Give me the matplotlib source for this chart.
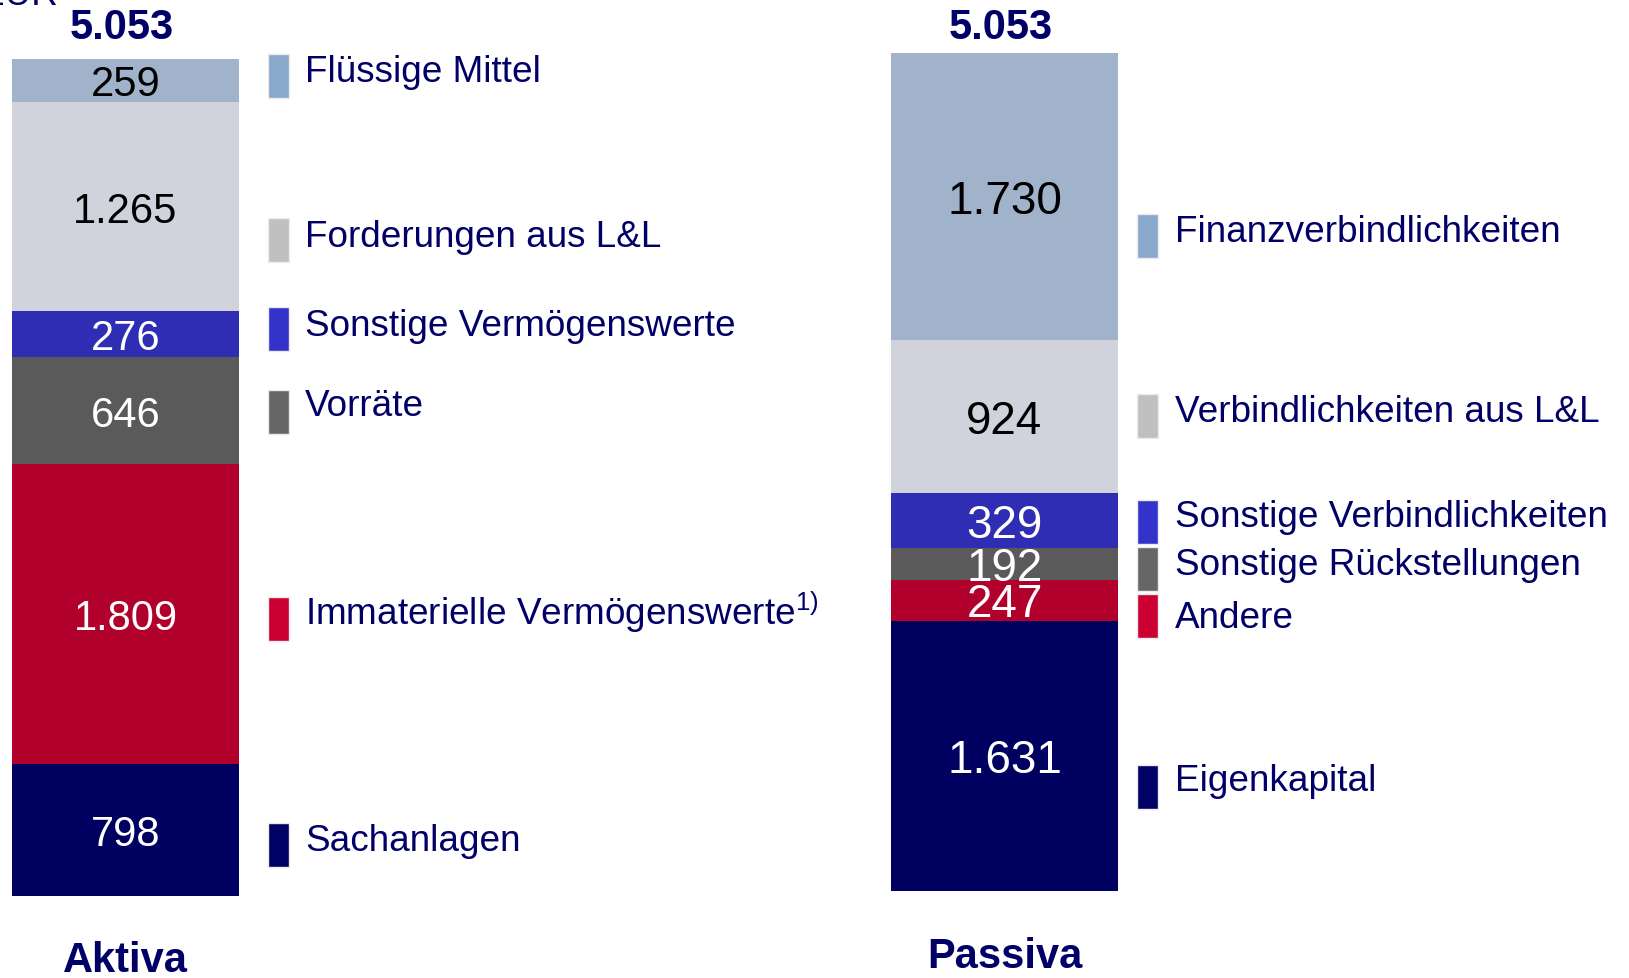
import matplotlib
matplotlib.use("Agg")
import matplotlib.pyplot as plt
from matplotlib.patches import Rectangle
from matplotlib.transforms import offset_copy

plt.rcParams["font.family"] = ["Liberation Sans", "DejaVu Sans"]
plt.rcParams["mathtext.fontset"] = "custom"
plt.rcParams["mathtext.rm"] = "Liberation Sans"

# Bilanz in Mio. EUR, segments listed bottom to top
unit = "EUR"
column_titles = ["Aktiva", "Passiva"]
aktiva_labels = ["Sachanlagen", "Immaterielle Vermögenswerte$^{1)}$", "Vorräte",
                 "Sonstige Vermögenswerte", "Forderungen aus L&L", "Flüssige Mittel"]
aktiva_values = [798, 1809, 646, 276, 1265, 259]
passiva_labels = ["Eigenkapital", "Andere", "Sonstige Rückstellungen",
                  "Sonstige Verbindlichkeiten", "Verbindlichkeiten aus L&L",
                  "Finanzverbindlichkeiten"]
passiva_values = [1631, 247, 192, 329, 924, 1730]

NAVY = "#000066"
bar_colors = ["#000060", "#b2002d", "#5a5a5a", "#2e2db4", "#d0d3db", "#a0b3cb"]
marker_colors = ["#000066", "#cc0033", "#666666", "#3333cc", "#c0c0c0", "#88a8cc"]
text_colors = ["white", "white", "white", "white", "black", "black"]

W, H = 1629, 979


def fmt(v):
    return f"{v:,}".replace(",", ".")


def draw_column(fig, values, top, bottom, xc, label_size):
    """Stacked bar in value units, placed between pixel rows top/bottom."""
    total = sum(values)
    ax = fig.add_axes([0, (H - bottom) / H, 1, (bottom - top) / H])
    ax.set_xlim(0, W)
    ax.set_ylim(0, total)
    ax.axis("off")
    bottoms = [sum(values[:i]) for i in range(len(values))]
    ax.bar(xc, values, width=227, bottom=bottoms, color=bar_colors, linewidth=0)
    em = label_size * 100 / 72
    trans = offset_copy(ax.transData, fig=fig, y=-0.716 * em / 2, units="dots")
    for v, b, c in zip(values, bottoms, text_colors):
        ax.text(xc, b + v / 2, fmt(v), transform=trans, ha="center", va="baseline",
                fontsize=label_size, color=c)
    return total


def draw_legend(lay, labels, x_marker, x_text, marker_tops, baselines):
    for lab, col, mt, bl in zip(labels, marker_colors, marker_tops, baselines):
        lay.add_patch(Rectangle((x_marker, mt), 21, 44, facecolor=col,
                                edgecolor="#ebebeb", linewidth=1))
        lay.text(x_text, bl, lab, ha="left", va="baseline", fontsize=26.6, color=NAVY)


fig = plt.figure(figsize=(W / 100, H / 100), dpi=100)

total_a = draw_column(fig, aktiva_values, 60, 897, 125.5, 30)
total_p = draw_column(fig, passiva_values, 54, 892, 1004.5, 33)

lay = fig.add_axes([0, 0, 1, 1])
lay.set_xlim(0, W)
lay.set_ylim(H, 0)
lay.axis("off")

# legends (pixel layout, bottom to top like the data)
draw_legend(lay, aktiva_labels, 268, 305,
            [824, 598, 391, 308, 219, 55],
            [851, 625, 416, 336, 247, 82])
draw_legend(lay, passiva_labels, 1137, 1175,
            [766, 595, 548, 501, 395, 215],
            [791, 628, 575, 527, 422, 242])

# totals and column titles
for xc, tot, title, ty in [(125.5, total_a, column_titles[0], 972),
                           (1004.5, total_p, column_titles[1], 968)]:
    lay.text(xc - 4, 39, fmt(tot), ha="center", va="baseline", fontsize=30,
             fontweight="bold", color=NAVY)
    lay.text(xc, ty, title, ha="center", va="baseline", fontsize=30,
             fontweight="bold", color=NAVY)

# unit label, cut off at the top edge as in the source slide
lay.text(58, 5, unit, ha="right", va="baseline", fontsize=26.6, color=NAVY)

fig.savefig("out.png", dpi=100)
